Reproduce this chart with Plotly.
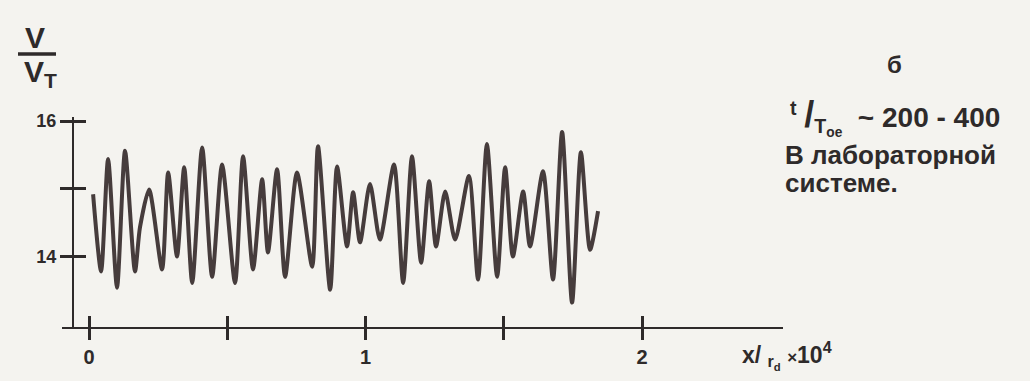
import plotly.graph_objects as go

# Signal (extrema of the oscillation)
x_vals = [0.0145, 0.0434, 0.0687, 0.101, 0.130, 0.166, 0.184, 0.217, 0.264, 0.286,
          0.318, 0.344, 0.373, 0.409, 0.445, 0.481, 0.528, 0.557, 0.593, 0.626,
          0.647, 0.680, 0.709, 0.752, 0.807, 0.828, 0.872, 0.897, 0.933, 0.955,
          0.980, 1.016, 1.052, 1.103, 1.136, 1.168, 1.201, 1.230, 1.255, 1.288,
          1.324, 1.374, 1.407, 1.439, 1.476, 1.505, 1.533, 1.570, 1.595, 1.642,
          1.678, 1.711, 1.747, 1.779, 1.812, 1.841]
v_vals = [14.92, 13.78, 15.44, 13.54, 15.56, 13.78, 14.43, 14.99, 13.81, 15.24,
          14.00, 15.32, 13.61, 15.61, 13.70, 15.36, 13.61, 15.48, 13.81, 15.14,
          14.06, 15.29, 13.70, 15.24, 13.85, 15.63, 13.51, 15.33, 14.15, 14.95,
          14.21, 15.07, 14.25, 15.36, 13.61, 15.48, 13.91, 15.11, 14.15, 14.96,
          14.25, 15.19, 13.66, 15.66, 13.70, 15.32, 14.00, 14.96, 14.15, 15.26,
          13.66, 15.84, 13.32, 15.54, 14.10, 14.67]

x_ticks = [0, 0.5, 1, 1.5, 2]
x_tick_text = ["0", "", "1", "", "2"]
y_ticks = [14, 15, 16]
y_tick_text = ["14", "", "16"]

INK = "#2e2a2a"
LINE = "#463c3c"
BG = "#f4f3ef"
FONT = "Liberation Sans"

X_RANGE = [-0.098, 2.51]
Y_RANGE = [12.96, 16.06]

fig = go.Figure()
fig.add_trace(go.Scatter(
    x=x_vals, y=v_vals, mode="lines",
    line=dict(color=LINE, width=4, shape="spline", smoothing=0.7),
    hoverinfo="skip", showlegend=False,
))
# empty trace so the overlay axes (inner half of the crossing ticks) are drawn
fig.add_trace(go.Scatter(x=[], y=[], xaxis="x2", yaxis="y2", mode="lines",
                         hoverinfo="skip", showlegend=False))

L, R, T, B = 62, 247, 117, 54
W = 1030 - L - R
H = 381 - T - B
YPOS = (73 - L) / W

tick_common = dict(tickwidth=2.5, tickcolor=INK, showgrid=False, zeroline=False)

fig.update_layout(
    width=1030, height=381,
    margin=dict(l=L, r=R, t=T, b=B, pad=0),
    paper_bgcolor=BG, plot_bgcolor=BG,
    font=dict(family=FONT, size=17, color=INK, weight=700),
    xaxis=dict(
        range=X_RANGE, showline=True, linecolor=INK, linewidth=2,
        tickmode="array", tickvals=x_ticks, ticktext=x_tick_text,
        ticks="outside", ticklen=11,
        tickfont=dict(size=20, family=FONT, color=INK, weight=700),
        **tick_common,
    ),
    xaxis2=dict(
        range=X_RANGE, overlaying="x", anchor="y", side="bottom",
        showline=False, showticklabels=False,
        tickmode="array", tickvals=x_ticks,
        ticks="inside", ticklen=11, **tick_common,
    ),
    yaxis=dict(
        range=Y_RANGE, anchor="free", position=YPOS,
        showline=True, linecolor=INK, linewidth=2,
        tickmode="array", tickvals=y_ticks, ticktext=y_tick_text,
        ticks="outside", ticklen=12,
        tickfont=dict(size=18, family=FONT, color=INK, weight=700),
        **tick_common,
    ),
    yaxis2=dict(
        range=Y_RANGE, overlaying="y", anchor="free", position=YPOS, side="left",
        showline=False, showticklabels=False,
        tickmode="array", tickvals=y_ticks,
        ticks="inside", ticklen=12, **tick_common,
    ),
)

def px_x(p):
    return (p - L) / W

def px_y(p):
    return 1 - (p - T) / H

ann = [
    dict(text="V", x=px_x(35), y=px_y(37), size=30),
    dict(text="V<sub>T</sub>", x=px_x(40), y=px_y(73), size=30),
    dict(text="x/ <sub>r<sub>d</sub></sub> <span style='font-size:17px'>×</span>10<sup>4</sup>",
         x=px_x(787), y=px_y(355), size=23),
    dict(text="б", x=px_x(894), y=px_y(64), size=24),
    dict(text="<sup>t</sup> <span style='font-size:36px'>/</span><sub>T<sub>oe</sub></sub>  ~ 200 - 400",
         x=px_x(788), y=px_y(117), size=28, xanchor="left"),
    dict(text="В лабораторной", x=px_x(783), y=px_y(155), size=26, xanchor="left"),
    dict(text="системе.", x=px_x(783), y=px_y(183), size=26, xanchor="left"),
]
for a in ann:
    fig.add_annotation(
        text=a["text"], x=a["x"], y=a["y"], xref="paper", yref="paper",
        xanchor=a.get("xanchor", "center"), yanchor="middle", showarrow=False,
        font=dict(family=FONT, size=a.get("size", 20), color=INK, weight=700),
    )

# fraction bar of V / V_T
fig.add_shape(type="line", xref="paper", yref="paper",
              x0=px_x(18), x1=px_x(56), y0=px_y(54), y1=px_y(54),
              line=dict(color=INK, width=3.5))

fig.write_html("out.html")
